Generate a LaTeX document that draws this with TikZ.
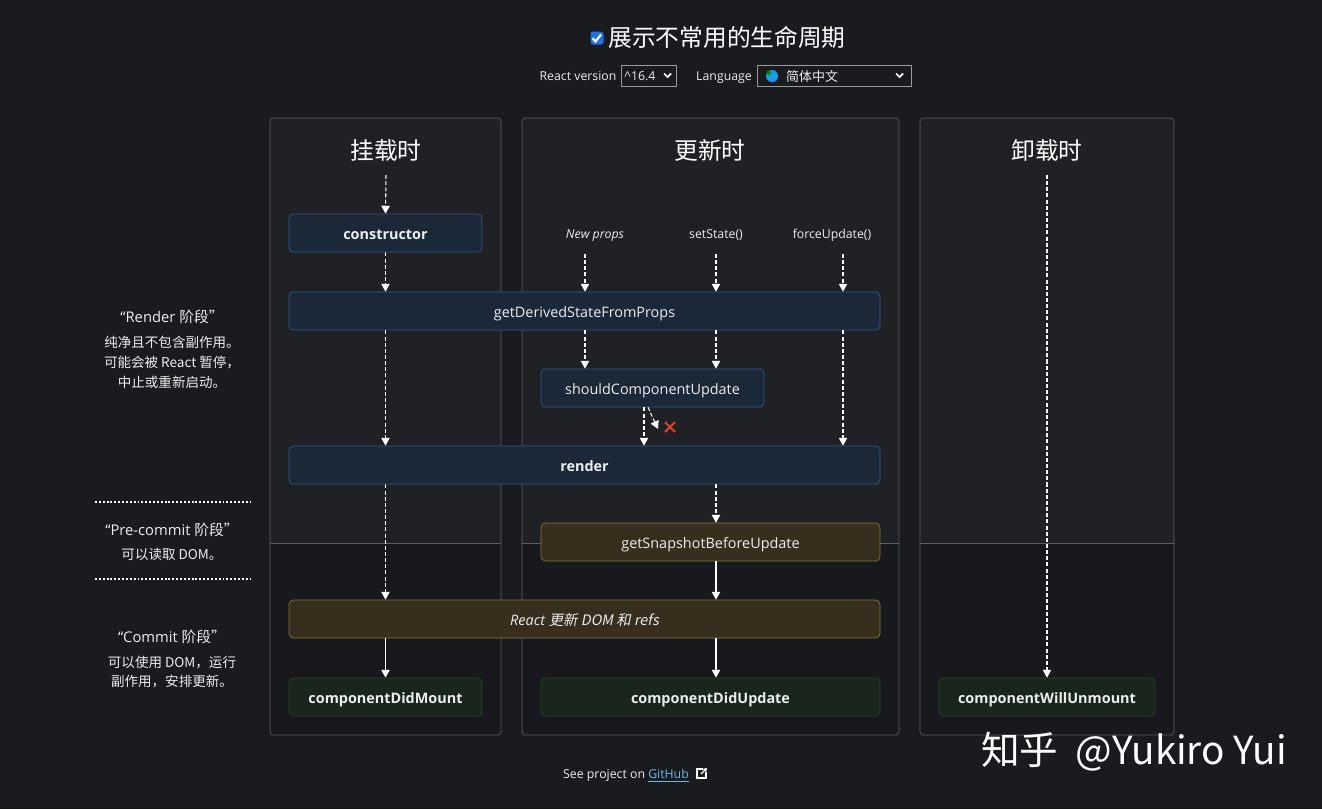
\documentclass[tikz,border=0pt]{standalone}
\usepackage{fontspec}
\setmainfont{Open Sans}
\newfontfamily\cjk{Noto Sans CJK SC}[AutoFakeSlant=0.2]
\usetikzlibrary{arrows.meta}

\definecolor{pagebg}{HTML}{1A1B1F}
\definecolor{panelup}{HTML}{202125}
\definecolor{paneldown}{HTML}{18191D}
\definecolor{panelline}{HTML}{5C5D62}
\definecolor{bluefill}{HTML}{1B2838}
\definecolor{blueline}{HTML}{2D5A96}
\definecolor{yellowfill}{HTML}{372E1E}
\definecolor{yellowline}{HTML}{8C7232}
\definecolor{greenfill}{HTML}{1A261C}
\definecolor{greenline}{HTML}{28452B}
\definecolor{checkblue}{HTML}{1A73E8}
\definecolor{linkblue}{HTML}{6CB6E8}
\definecolor{crossred}{HTML}{E0402A}
\definecolor{textwhite}{HTML}{EDEDED}

\tikzset{
  lifebox/.style={draw, rounded corners=2.5pt, inner sep=0pt, minimum height=0.76cm,
    text height=1.45ex, text depth=0pt, text=textwhite, font=\fontsize{8.2}{10}\selectfont},
  mountbox/.style={lifebox, fill=bluefill, draw=blueline},
  commitbox/.style={lifebox, fill=yellowfill, draw=yellowline},
  donebox/.style={lifebox, fill=greenfill, draw=greenline, font=\fontsize{8.2}{10}\selectfont\bfseries},
  coltitle/.style={text=white, font=\cjk\fontsize{13.5}{16}\selectfont},
  trigger/.style={text=textwhite, text depth=0pt, font=\fontsize{7}{9}\selectfont},
  phasehead/.style={text=textwhite, font=\fontsize{8.4}{10}\selectfont},
  phasetext/.style={text=textwhite, align=center, font=\fontsize{7.7}{11.3}\selectfont},
  sepline/.style={white, line width=1.1pt, dash pattern=on 1.1pt off 1.1pt},
  dasharrow/.style={draw=white, line width=0.6pt, dash pattern=on 2.3pt off 1.2pt,
    -{Triangle[length=4.5pt,width=4.8pt]}},
  solidarrow/.style={draw=white, line width=0.7pt, -{Triangle[length=4.5pt,width=4.8pt]}},
  selectbox/.style={draw=gray!80, fill=pagebg, inner sep=0pt, minimum height=0.42cm},
  smalltext/.style={text=textwhite, text depth=0pt, font=\fontsize{7}{9}\selectfont},
}

\begin{document}
\begin{tikzpicture}[x=0.02cm, y=-0.02cm]
  % Hintergrund
  \fill[pagebg] (0,0) rectangle (1322,809);
  \useasboundingbox (0,0) rectangle (1322,809);

  % Kopfzeile
  \node[fill=checkblue, rounded corners=1.5pt, minimum size=0.26cm, inner sep=0pt] (check) at (597,38) {};
  \draw[white, line width=1.2pt] (592.5,38) -- (595.5,41.5) -- (601,34.5);
  \node[text=white, font=\cjk\fontsize{13.5}{16}\selectfont] (showall) at (727,37) {展示不常用的生命周期};
  \node[smalltext] (versionlabel) at (578,76) {React version};
  \node[selectbox, minimum width=1.1cm] (version) at (648.5,75.5) {};
  \node[smalltext] (versionvalue) at (640,76) {\textasciicircum16.4};
  \draw[white, line width=1pt] (664,73.5) -- (667.5,77) -- (671,73.5);
  \node[smalltext] (languagelabel) at (724,76) {Language};
  \node[selectbox, minimum width=3.08cm] (language) at (834,75.5) {};
  \fill[checkblue!70!cyan] (772,76) circle (6);
  \fill[green!55!black] (769,73) circle (2.5);
  \node[smalltext, font=\cjk\fontsize{7.4}{9}\selectfont] (languagevalue) at (812,76) {简体中文};
  \draw[white, line width=1pt] (896,73.5) -- (899.5,77) -- (903,73.5);

  % Spalten
  \foreach \l/\r in {270/501, 522/899, 920/1174} {
    \fill[panelup] (\l,118) rectangle (\r,543);
    \fill[paneldown] (\l,543) rectangle (\r,735);
    \draw[panelline] (\l,543) -- (\r,543);
    \draw[panelline, rounded corners=2pt] (\l,118) rectangle (\r,735);
  }

  % Spaltentitel
  \node[coltitle] (mounttitle) at (386,150) {挂载时};
  \node[coltitle] (updatetitle) at (710,150) {更新时};
  \node[coltitle] (unmounttitle) at (1047,150) {卸载时};

  % Ausloeser
  \node[trigger, font=\fontsize{7}{9}\selectfont\itshape] (newprops) at (595,234) {New props};
  \node[trigger] (setstate) at (716,234) {setState()};
  \node[trigger] (forceupdate) at (832,234) {forceUpdate()};
  \coordinate (mtop) at (386,175);
  \coordinate (utop) at (1047,175);
  \coordinate (np) at (585,254);
  \coordinate (ss) at (716,254);
  \coordinate (fu) at (843,254);

  % Lebenszyklus-Methoden
  \node[mountbox, minimum width=3.86cm, font=\fontsize{8.2}{10}\selectfont\bfseries] (constructor) at (385.5,233) {constructor};
  \node[mountbox, minimum width=11.82cm] (gdsfp) at (584.5,311) {getDerivedStateFromProps};
  \node[mountbox, minimum width=4.46cm] (scu) at (652.5,388) {shouldComponentUpdate};
  \node[mountbox, minimum width=11.82cm, font=\fontsize{8.2}{10}\selectfont\bfseries] (render) at (584.5,465) {render};
  \node[commitbox, minimum width=6.78cm] (gsbu) at (710.5,542) {getSnapshotBeforeUpdate};
  \node[commitbox, minimum width=11.82cm, font=\fontsize{8.2}{10}\selectfont\itshape] (domupdate) at (584.5,619) {React \cjk{更新} DOM \cjk{和} refs};
  \node[donebox, minimum width=3.86cm] (cdm) at (385.5,697) {componentDidMount};
  \node[donebox, minimum width=6.78cm] (cdu) at (710.5,697) {componentDidUpdate};
  \node[donebox, minimum width=4.32cm] (cwu) at (1047,697) {componentWillUnmount};

  % Pfeile Mounting
  \draw[dasharrow] (mtop) -- (constructor.north);
  \draw[dasharrow] (constructor.south) -- (constructor.south |- gdsfp.north);
  \draw[dasharrow] (constructor.south |- gdsfp.south) -- (constructor.south |- render.north);
  \draw[dasharrow] (constructor.south |- render.south) -- (constructor.south |- domupdate.north);
  \draw[solidarrow] (constructor.south |- domupdate.south) -- (cdm.north);

  % Pfeile Updating
  \draw[dasharrow] (np) -- (np |- gdsfp.north);
  \draw[dasharrow] (ss) -- (ss |- gdsfp.north);
  \draw[dasharrow] (fu) -- (fu |- gdsfp.north);
  \draw[dasharrow] (np |- gdsfp.south) -- (np |- scu.north);
  \draw[dasharrow] (ss |- gdsfp.south) -- (ss |- scu.north);
  \draw[dasharrow] (fu |- gdsfp.south) -- (fu |- render.north);
  \draw[dasharrow] ([xshift=-0.17cm]scu.south) -- ([xshift=-0.17cm]scu.south |- render.north);
  \coordinate (noupdate) at (658,429);
  \draw[dasharrow] ([xshift=-0.09cm]scu.south) -- (noupdate);
  \draw[crossred, line width=1.2pt] (665,422) -- (675,432) (665,432) -- (675,422);
  \draw[dasharrow] (ss |- render.south) -- (ss |- gsbu.north);
  \draw[solidarrow] (ss |- gsbu.south) -- (ss |- domupdate.north);
  \draw[solidarrow] (ss |- domupdate.south) -- (ss |- cdu.north);

  % Pfeil Unmounting
  \draw[dasharrow] (utop) -- (cwu.north);

  % Phasen links
  \node[phasehead] (renderhead) at (172,317) {“Render \cjk{阶段}”};
  \node[phasetext] (rendertext) at (172,362) {\cjk{纯净且不包含副作用。}\\\cjk{可能会被} React \cjk{暂停，}\\\cjk{中止或重新启动。}};
  \draw[sepline] (95,502) -- (250,502);
  \node[phasehead] (precommithead) at (172,530) {“Pre-commit \cjk{阶段}”};
  \node[phasetext] (precommittext) at (172,554) {\cjk{可以读取} DOM\cjk{。}};
  \draw[sepline] (95,579) -- (250,579);
  \node[phasehead] (commithead) at (172,637) {“Commit \cjk{阶段}”};
  \node[phasetext] (committext) at (172,672) {\cjk{可以使用} DOM\cjk{，运行}\\\cjk{副作用，安排更新。}};

  % Fusszeile
  \node[smalltext] (footer) at (626,774) {See project on \textcolor{linkblue}{\underline{GitHub}}};
  \draw[white, line width=0.6pt] (703,769) -- (697,769) -- (697,778) -- (706,778) -- (706,772);
  \draw[white, line width=0.7pt, -{Triangle[length=2pt,width=2.5pt]}] (701,774) -- (707,768);

  % Wasserzeichen
  \node[text=white, font=\cjk\fontsize{22}{26}\selectfont] (zhihu) at (1134,752) {知乎\ \ @Yukiro Yui};
\end{tikzpicture}
\end{document}
